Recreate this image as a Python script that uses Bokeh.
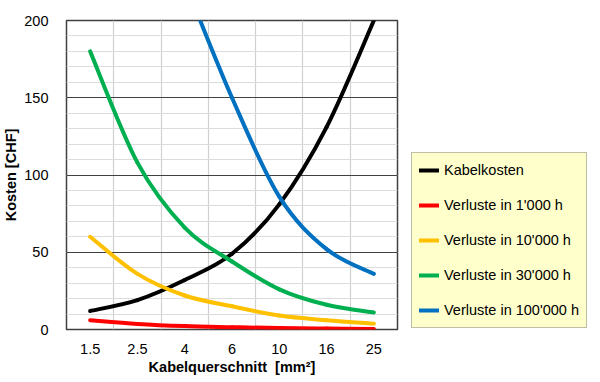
from bokeh.plotting import figure
from bokeh.models import (ColumnDataSource, FixedTicker, Legend, LegendItem, Range1d)
from bokeh.embed import file_html
from bokeh.resources import INLINE

# ---- data ----
categories = ["1.5", "2.5", "4", "6", "10", "16", "25"]
kabelkosten = [12, 19, 32, 49, 81, 131, 200]
verluste_1000 = [6, 3.6, 2.2, 1.5, 0.9, 0.6, 0.4]
verluste_10000 = [60, 36, 22, 15, 9, 6, 3.8]
verluste_30000 = [180, 108, 66, 44, 26, 16, 11]
verluste_100000_x = ["4", "6", "10", "16", "25"]
verluste_100000 = [225, 150, 86, 52, 36]

series = [
    ("Kabelkosten", categories, kabelkosten, "#000000"),
    ("Verluste in 1'000 h", categories, verluste_1000, "#FF0000"),
    ("Verluste in 10'000 h", categories, verluste_10000, "#FFC000"),
    ("Verluste in 30'000 h", categories, verluste_30000, "#00B050"),
    ("Verluste in 100'000 h", verluste_100000_x, verluste_100000, "#0070C0"),
]

y_major = [0, 50, 100, 150, 200]
y_minor = list(range(0, 201, 10))

FONT = "Liberation Sans"

p = figure(frame_width=331, frame_height=309, output_backend="svg",
           toolbar_location=None,
           x_range=Range1d(-0.5, 6.5), y_range=Range1d(0, 200),
           min_border_left=61, min_border_right=200, min_border_top=20,
           min_border_bottom=45)

p.outline_line_color = "#404040"
p.outline_line_width = 1.5
p.background_fill_color = "white"
p.border_fill_color = "white"

# axes
p.xaxis.ticker = FixedTicker(ticks=list(range(len(categories))))
p.xaxis.major_label_overrides = {i: c for i, c in enumerate(categories)}
p.yaxis.ticker = FixedTicker(ticks=y_major, minor_ticks=y_minor)
for ax in (p.xaxis[0], p.yaxis[0]):
    ax.axis_line_color = None
    ax.major_tick_line_color = None
    ax.minor_tick_line_color = None
    ax.major_label_text_font = FONT
    ax.major_label_text_font_size = "14.5px"
    ax.major_label_text_color = "#000000"
    ax.axis_label_text_font = FONT
    ax.axis_label_text_font_size = "14.5px"
    ax.axis_label_text_font_style = "bold"
    ax.axis_label_text_color = "#000000"
p.xaxis.axis_label = "Kabelquerschnitt\u00a0 [mm²]"
p.yaxis.axis_label = "Kosten [CHF]"
p.xaxis.major_label_standoff = 8
p.yaxis.major_label_standoff = 12
p.xaxis.axis_label_standoff = 2
p.yaxis.axis_label_standoff = 2

# grids
p.xgrid.ticker = FixedTicker(ticks=[i + 0.5 for i in range(len(categories) - 1)])
p.xgrid.grid_line_color = "#D0D0D0"
p.xgrid.grid_line_width = 1.2
p.ygrid.grid_line_color = "#404040"
p.ygrid.grid_line_width = 1.2
p.ygrid.minor_grid_line_color = "#DCDCDC"
p.ygrid.minor_grid_line_width = 1.2

# smoothed lines (Excel-like Catmull-Rom Bezier segments through the data points)
items = []
for label, xs_cat, ys, color in series:
    xs = [categories.index(c) for c in xs_cat]
    n = len(xs)
    x0, y0, x1, y1, cx0, cy0, cx1, cy1 = [], [], [], [], [], [], [], []
    for i in range(n - 1):
        pm = i - 1 if i > 0 else i
        pp = i + 2 if i + 2 < n else i + 1
        x0.append(xs[i]); y0.append(ys[i])
        x1.append(xs[i + 1]); y1.append(ys[i + 1])
        cx0.append(xs[i] + (xs[i + 1] - xs[pm]) / 6.0)
        cy0.append(ys[i] + (ys[i + 1] - ys[pm]) / 6.0)
        cx1.append(xs[i + 1] - (xs[pp] - xs[i]) / 6.0)
        cy1.append(ys[i + 1] - (ys[pp] - ys[i]) / 6.0)
    src = ColumnDataSource(dict(x0=x0, y0=y0, x1=x1, y1=y1,
                                cx0=cx0, cy0=cy0, cx1=cx1, cy1=cy1))
    r = p.bezier(x0="x0", y0="y0", x1="x1", y1="y1", cx0="cx0", cy0="cy0",
                 cx1="cx1", cy1="cy1", source=src, line_color=color,
                 line_width=4, line_cap="round")
    items.append(LegendItem(label=label, renderers=[r], index=0))

legend = Legend(items=items, location=(14, 1))
legend.background_fill_color = "#FFFFCC"
legend.background_fill_alpha = 1.0
legend.border_line_color = "#808080"
legend.border_line_width = 1
legend.label_text_font = FONT
legend.label_text_font_size = "14.5px"
legend.label_text_color = "#000000"
legend.glyph_width = 20
legend.glyph_height = 20
legend.label_height = 20
legend.label_standoff = 5
legend.spacing = 15
legend.padding = 7
legend.margin = 0
p.add_layout(legend, "right")

open("out.html", "w").write(file_html(p, INLINE))
